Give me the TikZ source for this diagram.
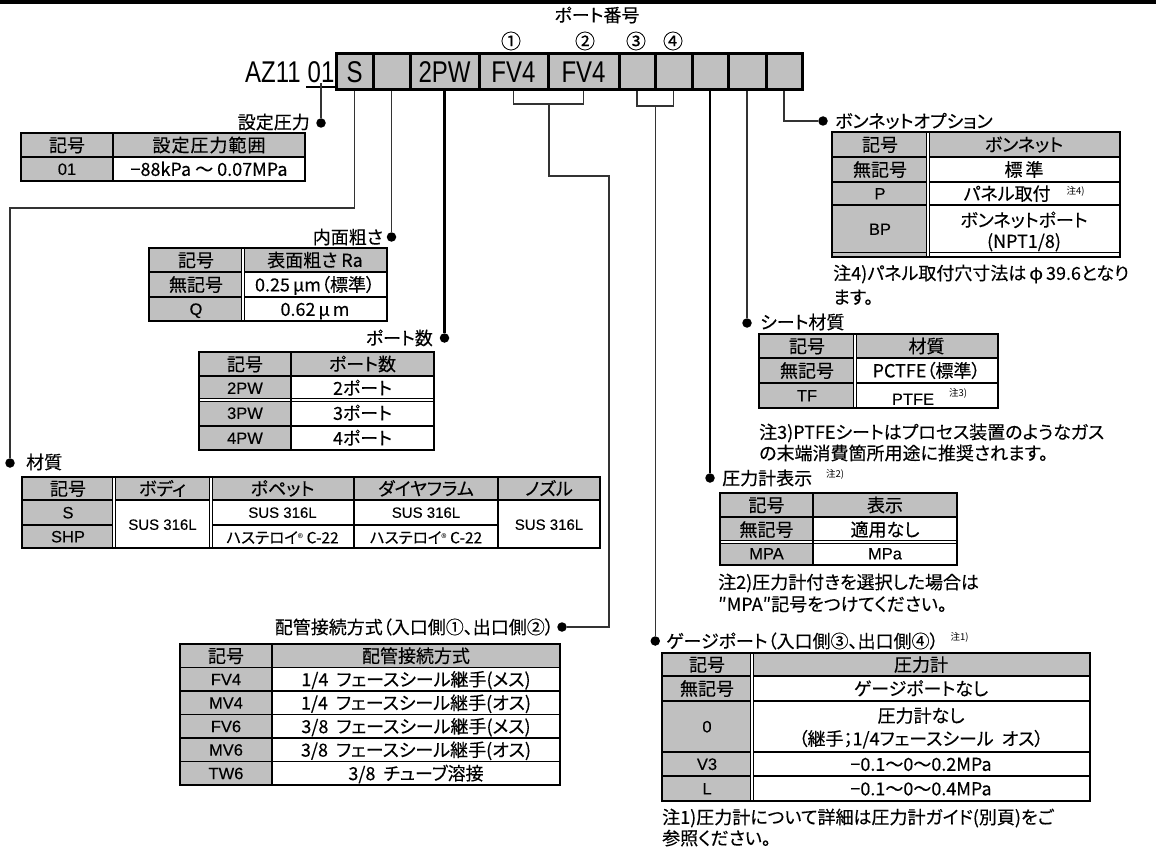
\documentclass[tikz,border=0pt]{standalone}
\usepackage{fontspec}
\setmainfont{Noto Sans CJK JP}[RawFeature={+palt}, FakeBold=0.25]
\newfontfamily\plainjp{Noto Sans CJK JP}[RawFeature={+palt}]
\newfontfamily\codefont{Liberation Sans}[FakeStretch=0.8]
\newfontfamily\latfont{Liberation Sans}[FakeBold=0.2]
\definecolor{cellgray}{HTML}{C0C0C0}
\newcommand\fj{\fontsize{18}{21}\selectfont}
\newcommand\fla{\latfont\fontsize{16.5}{18}\selectfont}
\newcommand\fsm{\latfont\fontsize{15}{16}\selectfont}
\newcommand\fsup{\plainjp\fontsize{9.5}{10}\selectfont}
\newcommand\regm{{\plainjp\fontsize{11}{11}\selectfont ®}}
\tikzset{
  conn/.style={line width=1.4pt, draw=black!80},
  connb/.style={line width=2.2pt, draw=black},
  dot/.style={circle, fill=black, inner sep=0pt, minimum size=9.5pt},
  cbox/.style={draw=black, line width=3pt, fill=cellgray, minimum height=36pt, inner sep=0pt,
    font=\codefont\fontsize{30}{30}\selectfont, text height=21.5pt, text depth=0pt},
  big/.style={inner sep=0pt, font=\codefont\fontsize{30}{30}\selectfont, text height=21.5pt, text depth=0pt},
  tx/.style={inner sep=0pt, font=\fj, text height=15.5pt, text depth=1.8pt},
  la/.style={inner sep=0pt, font=\fla, text height=11.8pt, text depth=0pt},
  sm/.style={inner sep=0pt, font=\fsm, text height=10.7pt, text depth=0pt},
  cn/.style={inner sep=0pt, font=\fontsize{20}{20}\selectfont},
  outer/.style={line width=2.6pt, draw=black},
  inner/.style={line width=1.6pt, draw=black},
  dbl/.style={double, double distance=1.4pt, line width=0.9pt, draw=black}
}
\begin{document}
\begin{tikzpicture}[x=1pt,y=-1pt]
\useasboundingbox (0,0) rectangle (1156,848);
\fill[white] (0,0) rectangle (1156,848);
\fill[black] (0,0) rectangle (1156,4);

% ---------- header ----------
\node[tx] (ttl) at (597,15) {ポート番号};
\node[cn] (c1) at (511,41) {①};
\node[cn] (c2) at (585,41) {②};
\node[cn] (c3) at (636,41) {③};
\node[cn] (c4) at (673,41) {④};

\node[big, anchor=east] (az) at (301,72) {AZ11};
\node[big] (n01) at (321,72) {01};
\draw[line width=1.6pt] ([xshift=-1pt,yshift=-4pt]n01.south west) -- ([xshift=1pt,yshift=-4pt]n01.south east);

\node[cbox, minimum width=37pt] (b1) at (354.5,72) {S};
\node[cbox, minimum width=37pt] (b2) at (391.5,72) {};
\node[cbox, minimum width=69pt] (b3) at (444.5,72) {2PW};
\node[cbox, minimum width=69pt] (b4) at (513.5,72) {FV4};
\node[cbox, minimum width=71pt] (b5) at (583.5,72) {FV4};
\node[cbox, minimum width=36pt] (b6) at (637,72) {};
\node[cbox, minimum width=37pt] (b7) at (673.5,72) {};
\node[cbox, minimum width=36pt] (b8) at (710,72) {};
\node[cbox, minimum width=38pt] (b9) at (747,72) {};
\node[cbox, minimum width=36pt] (b10) at (784,72) {};

% ---------- connectors ----------
\node[dot] (d1) at (321,123) {};
\draw[conn] (n01.south) -- (d1);

\coordinate (k1) at (10,208);
\node[dot] (dMat) at (10,463) {};
\draw[conn] (b1.south) |- (k1) -- (dMat);

\node[dot] (dNai) at (391.5,237) {};
\draw[conn] (b2.south) -- (dNai);

\node[dot] (dPort) at (444.5,338) {};
\draw[connb] (b3.south) -- (dPort);

\coordinate (br1) at (549,104);
\draw[conn] (b4.south) |- (br1) -| (b5.south);
\coordinate (k2) at (549,176);
\coordinate (k3) at (609,627);
\node[dot] (dPipe) at (562,627) {};
\draw[conn] (br1) -- (k2) -| (k3) -- (dPipe);

\coordinate (br2) at (655.25,106);
\draw[conn] (b6.south) |- (br2) -| (b7.south);
\node[dot] (dGauge) at (655.25,641) {};
\draw[conn] (br2) -- (dGauge);

\node[dot] (dPG) at (710,478) {};
\draw[connb] (b8.south) -- (dPG);

\node[dot] (dSeat) at (747,323) {};
\draw[conn] (b9.south) -- (dSeat);

\node[dot] (dBon) at (823,121) {};
\draw[conn] (b10.south) |- (dBon);

% ---------- T1 設定圧力 ----------
\node[tx, anchor=east] (l1) at (310,122) {設定圧力};
\fill[cellgray] (21,133) rectangle (305,181);
\fill[white] (113,157) rectangle (305,181);
\draw[inner] (21,157) -- (305,157);
\draw[inner] (113,133) -- (113,181);
\draw[outer] (21,133) rectangle (305,181);
\node[tx] (t11) at (67,145) {記号};
\node[tx] (t12) at (209,145) {設\hspace{1pt}定\hspace{1pt}圧\hspace{1pt}力\hspace{1pt}範\hspace{1pt}囲};
\node[la] (t13) at (67,169) {01};
\node[tx] (t14) at (209,169) {−88kPa ～ 0.07MPa};

% ---------- T2 内面粗さ ----------
\node[tx, anchor=east] (l2) at (383,237) {内面粗さ};
\fill[cellgray] (149,248) rectangle (387,321);
\fill[white] (243,272) rectangle (387,321);
\draw[inner] (149,272) -- (387,272);
\draw[inner] (149,297) -- (387,297);
\draw[dbl] (243,248) -- (243,321);
\draw[outer] (149,248) rectangle (387,321);
\node[tx] (t21) at (196,260) {記号};
\node[tx] (t22) at (315,260) {表面粗さ Ra};
\node[tx] (t23) at (196,284.5) {無記号};
\node[tx] (t24) at (315,284.5) {0.25\,μm（標準）};
\node[la] (t25) at (196,309) {Q};
\node[tx] (t26) at (315,309) {0.62\,μ\,m};

% ---------- T3 ポート数 ----------
\node[tx, anchor=east] (l3) at (433,338) {ポート数};
\fill[cellgray] (199,352) rectangle (434,450);
\fill[white] (291,376) rectangle (434,450);
\draw[inner] (199,376) -- (434,376);
\draw[dbl] (199,400) -- (434,400);
\draw[inner] (199,426) -- (434,426);
\draw[inner] (291,352) -- (291,450);
\draw[outer] (199,352) rectangle (434,450);
\node[tx] (t31) at (245,364) {記号};
\node[tx] (t32) at (362.5,364) {ポート数};
\node[la] (t33) at (245,388) {2PW};
\node[tx] (t34) at (362.5,388) {2ポート};
\node[la] (t35) at (245,413) {3PW};
\node[tx] (t36) at (362.5,413) {3ポート};
\node[la] (t37) at (245,438) {4PW};
\node[tx] (t38) at (362.5,438) {4ポート};

% ---------- T4 材質 ----------
\node[tx, anchor=west] (l4) at (26,462) {材質};
\fill[cellgray] (22,477) rectangle (600,548);
\fill[white] (114,500) rectangle (600,548);
\draw[inner] (22,500) -- (600,500);
\draw[inner] (22,525) -- (114,525);
\draw[inner] (211,525) -- (498,525);
\draw[inner] (354,477) -- (354,548);
\draw[inner] (498,477) -- (498,548);
\draw[dbl] (114,477) -- (114,548);
\draw[dbl] (211,477) -- (211,548);
\draw[outer] (22,477) rectangle (600,548);
\node[tx] (t41) at (68,488.5) {記号};
\node[tx] (t42) at (162.5,488.5) {ボディ};
\node[tx] (t43) at (282.5,488.5) {ポペット};
\node[tx] (t44) at (426,488.5) {ダイヤフラム};
\node[tx] (t45) at (549,488.5) {ノズル};
\node[la] (t46) at (68,512.5) {S};
\node[la] (t47) at (68,536.5) {SHP};
\node[sm] (t48) at (162.5,524.5) {SUS 316L};
\node[sm] (t49) at (282.5,512.5) {SUS 316L};
\node[sm] (t4a) at (426,512.5) {SUS 316L};
\node[tx] (t4b) at (282.5,536.5) {\fontsize{15.5}{16}\selectfont ハステロイ\raisebox{1pt}{\regm} C-22};
\node[tx] (t4c) at (426,536.5) {\fontsize{15.5}{16}\selectfont ハステロイ\raisebox{1pt}{\regm} C-22};
\node[sm] (t4d) at (549,524.5) {SUS 316L};

% ---------- T5 配管接続方式 ----------
\node[tx, anchor=east] (l5) at (554,627) {配管接続方式（入口側①、出口側②）};
\fill[cellgray] (180,644) rectangle (560,785);
\fill[white] (272,667.5) rectangle (560,785);
\foreach \yy in {667.5,691,714.5,738,761.5}{\draw[inner] (180,\yy) -- (560,\yy);}
\draw[inner] (272,644) -- (272,785);
\draw[outer] (180,644) rectangle (560,785);
\node[tx] (t51) at (226,655.75) {記号};
\node[tx] (t52) at (416,655.75) {配管接続方式};
\node[la] (t53) at (226,679.25) {FV4};
\node[tx] (t54) at (416,679.25) {1/4\ \ フェースシール継手(メス)};
\node[la] (t55) at (226,702.75) {MV4};
\node[tx] (t56) at (416,702.75) {1/4\ \ フェースシール継手(オス)};
\node[la] (t57) at (226,726.25) {FV6};
\node[tx] (t58) at (416,726.25) {3/8\ \ フェースシール継手(メス)};
\node[la] (t59) at (226,749.75) {MV6};
\node[tx] (t5a) at (416,749.75) {3/8\ \ フェースシール継手(オス)};
\node[la] (t5b) at (226,773.25) {TW6};
\node[tx] (t5c) at (416,773.25) {3/8\ \ チューブ溶接};

% ---------- T6 ゲージポート ----------
\node[tx, anchor=west] (l6) at (666,641) {ゲージポート（入口側③、出口側④）\hspace{12pt}\raisebox{7pt}{\fsup 注1)}};
\fill[cellgray] (662,653) rectangle (1090,801);
\fill[white] (752,676) rectangle (1090,801);
\foreach \yy in {676,701,752,776}{\draw[inner] (662,\yy) -- (1090,\yy);}
\draw[dbl] (752,653) -- (752,801);
\draw[outer] (662,653) rectangle (1090,801);
\node[tx] (t61) at (707,664.5) {記号};
\node[tx] (t62) at (921,664.5) {圧力計};
\node[tx] (t63) at (707,688.5) {無記号};
\node[tx] (t64) at (921,688.5) {ゲージポートなし};
\node[la] (t65) at (707,726.5) {0};
\node[tx] (t66) at (921,715.5) {圧力計なし};
\node[tx] (t67) at (921,738.5) {（継手；1/4フェースシール\ \ オス）};
\node[la] (t68) at (707,764) {V3};
\node[tx] (t69) at (921,764) {−0.1～0～0.2MPa};
\node[la] (t6a) at (707,788.5) {L};
\node[tx] (t6b) at (921,788.5) {−0.1～0～0.4MPa};
\node[tx, anchor=west] (n61) at (662,817) {注1)圧力計について詳細は圧力計ガイド(別頁)をご};
\node[tx, anchor=west] (n62) at (662,838) {参照ください。};

% ---------- T7 圧力計表示 ----------
\node[tx, anchor=west] (l7) at (722,478) {圧力計表示\hspace{14pt}\raisebox{7pt}{\fsup 注2)}};
\fill[cellgray] (720,493) rectangle (957,565);
\fill[white] (813,517) rectangle (957,565);
\draw[inner] (720,517) -- (957,517);
\draw[dbl] (720,542) -- (957,542);
\draw[inner] (813,493) -- (813,565);
\draw[outer] (720,493) rectangle (957,565);
\node[tx] (t71) at (766.5,505) {記号};
\node[tx] (t72) at (885,505) {表示};
\node[tx] (t73) at (766.5,529.5) {無記号};
\node[tx] (t74) at (885,529.5) {適用なし};
\node[la] (t75) at (766.5,553.5) {MPA};
\node[la] (t76) at (885,553.5) {MPa};
\node[tx, anchor=west] (n71) at (718,582) {注2)圧力計付きを選択した場合は};
\node[tx, anchor=west] (n72) at (718,604) {″MPA″記号をつけてください。};

% ---------- T8 シート材質 ----------
\node[tx, anchor=west] (l8) at (760,322) {シート材質};
\fill[cellgray] (759,334) rectangle (998,408);
\fill[white] (855,358) rectangle (998,408);
\draw[inner] (759,358) -- (998,358);
\draw[inner] (759,383) -- (998,383);
\draw[dbl] (855,334) -- (855,408);
\draw[outer] (759,334) rectangle (998,408);
\node[tx] (t81) at (807,346) {記号};
\node[tx] (t82) at (926.5,346) {材質};
\node[tx] (t83) at (807,370.5) {無記号};
\node[tx] (t84) at (926.5,370.5) {PCTFE（標準）};
\node[la] (t85) at (807,395.5) {TF};
\node[la] (t86) at (913,399) {PTFE};
\node[tx] (t87) at (958,390) {\fsup 注3)};
\node[tx, anchor=west] (n81) at (759,432) {注3)PTFEシートはプロセス装置のようなガス};
\node[tx, anchor=west] (n82) at (759,453) {の末端消費箇所用途に推奨されます。};

% ---------- T9 ボンネットオプション ----------
\node[tx, anchor=west] (l9) at (835,121) {ボンネットオプション};
\fill[cellgray] (832,132) rectangle (1120,257);
\fill[white] (928,157) rectangle (1120,257);
\draw[inner] (832,157) -- (1120,157);
\draw[inner] (832,182) -- (1120,182);
\draw[inner] (832,205) -- (1120,205);
\draw[line width=1pt] (832,252.5) -- (1120,252.5);
\draw[dbl] (928,132) -- (928,257);
\draw[outer] (832,132) rectangle (1120,257);
\node[tx] (t91) at (880,144.5) {記号};
\node[tx] (t92) at (1024,144.5) {ボンネット};
\node[tx] (t93) at (880,169.5) {無記号};
\node[tx] (t94) at (1024,169.5) {標\,準};
\node[la] (t95) at (880,193.5) {P};
\node[tx] (t96) at (1024,193.5) {パネル取付\hspace{16pt}\raisebox{6pt}{\fsup 注4)}};
\node[la] (t97) at (880,229) {BP};
\node[tx] (t98) at (1024,220) {ボンネットポート};
\node[tx] (t99) at (1024,241) {(NPT1/8)};
\node[tx, anchor=west] (n91) at (833,273) {注4)パネル取付穴寸法は\,φ\,39.6となり};
\node[tx, anchor=west] (n92) at (833,297) {ます。};
\end{tikzpicture}
\end{document}
